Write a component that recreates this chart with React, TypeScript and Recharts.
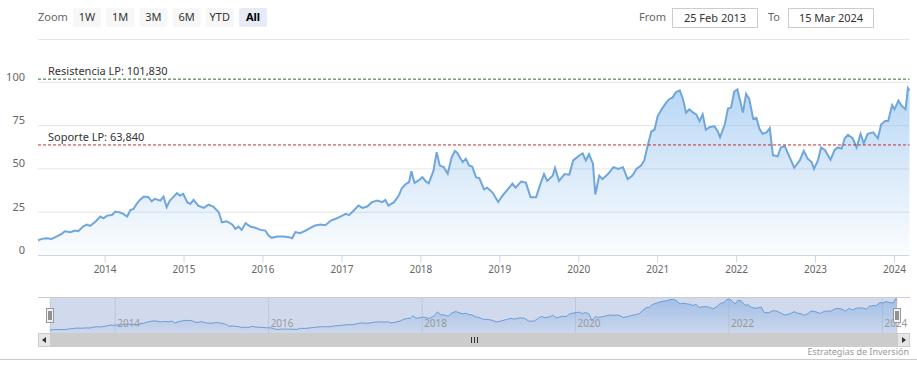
import React from "react";
import {
  AreaChart,
  Area,
  XAxis,
  YAxis,
  CartesianGrid,
  ReferenceLine,
  ReferenceArea,
} from "recharts";

// decimal years (25 Feb 2013 .. 15 Mar 2024)
const years = [
  2013.15, 2013.2, 2013.26, 2013.32, 2013.39, 2013.45, 2013.49, 2013.56, 2013.62, 2013.66,
  2013.72, 2013.77, 2013.81, 2013.87, 2013.94, 2013.98, 2014.02, 2014.09, 2014.13, 2014.19,
  2014.23, 2014.28, 2014.32, 2014.36, 2014.4, 2014.44, 2014.49, 2014.55, 2014.59, 2014.63,
  2014.7, 2014.74, 2014.78, 2014.82, 2014.87, 2014.91, 2014.95, 2014.99, 2015.04, 2015.08,
  2015.12, 2015.18, 2015.25, 2015.31, 2015.37, 2015.44, 2015.48, 2015.54, 2015.61, 2015.65,
  2015.69, 2015.73, 2015.78, 2015.84, 2015.9, 2015.97, 2016.03, 2016.07, 2016.11, 2016.18,
  2016.26, 2016.33, 2016.37, 2016.41, 2016.47, 2016.54, 2016.6, 2016.66, 2016.73, 2016.79,
  2016.86, 2016.92, 2016.98, 2017.05, 2017.09, 2017.15, 2017.21, 2017.26, 2017.32, 2017.38,
  2017.45, 2017.51, 2017.55, 2017.59, 2017.66, 2017.72, 2017.76, 2017.81, 2017.85, 2017.88,
  2017.92, 2017.98, 2018.02, 2018.06, 2018.1, 2018.16, 2018.2, 2018.24, 2018.29, 2018.34,
  2018.39, 2018.43, 2018.46, 2018.53, 2018.57, 2018.61, 2018.65, 2018.7, 2018.74, 2018.8,
  2018.84, 2018.91, 2018.98, 2019.03, 2019.1, 2019.16, 2019.2, 2019.27, 2019.33, 2019.39,
  2019.46, 2019.52, 2019.56, 2019.6, 2019.67, 2019.7, 2019.75, 2019.82, 2019.88, 2019.93,
  2020.01, 2020.05, 2020.09, 2020.13, 2020.18, 2020.21, 2020.26, 2020.3, 2020.37, 2020.44,
  2020.5, 2020.56, 2020.62, 2020.68, 2020.73, 2020.79, 2020.83, 2020.87, 2020.92, 2020.96,
  2021.0, 2021.05, 2021.11, 2021.15, 2021.19, 2021.23, 2021.28, 2021.32, 2021.36, 2021.4,
  2021.45, 2021.49, 2021.53, 2021.57, 2021.61, 2021.66, 2021.72, 2021.76, 2021.79, 2021.85,
  2021.89, 2021.93, 2021.97, 2022.01, 2022.05, 2022.08, 2022.12, 2022.16, 2022.21, 2022.25,
  2022.29, 2022.33, 2022.38, 2022.42, 2022.46, 2022.52, 2022.56, 2022.61, 2022.65, 2022.69,
  2022.73, 2022.8, 2022.85, 2022.9, 2022.95, 2022.98, 2023.03, 2023.07, 2023.12, 2023.19,
  2023.24, 2023.28, 2023.33, 2023.37, 2023.41, 2023.47, 2023.52, 2023.57, 2023.61, 2023.66,
  2023.73, 2023.79, 2023.83, 2023.88, 2023.92, 2023.97, 2024.0, 2024.05, 2024.09, 2024.14,
  2024.17, 2024.19,
];

const prices = [
  8.7, 9.6, 10.0, 9.6, 11.0, 12.5, 14.0, 13.5, 14.4, 14.0,
  16.7, 17.9, 17.1, 19.2, 22.5, 21.5, 22.9, 23.5, 25.4, 24.8,
  24.0, 22.5, 26.3, 26.9, 29.8, 32.1, 34.0, 33.7, 31.3, 32.7,
  31.7, 34.0, 27.9, 31.7, 34.0, 36.0, 34.6, 35.6, 30.8, 29.8,
  32.1, 28.8, 27.5, 29.4, 28.3, 25.0, 19.2, 19.8, 17.9, 15.4,
  16.7, 14.8, 18.7, 16.7, 16.0, 14.8, 14.4, 11.5, 10.2, 11.0,
  11.0, 10.6, 10.0, 13.5, 12.9, 14.4, 16.0, 17.3, 17.9, 17.5,
  20.2, 21.2, 22.5, 24.0, 23.3, 26.0, 28.8, 27.5, 28.3, 30.8,
  31.7, 30.8, 32.1, 28.8, 30.8, 34.6, 39.0, 41.3, 42.3, 48.7,
  41.9, 43.7, 45.2, 42.9, 41.7, 49.0, 59.7, 51.9, 51.0, 47.3,
  56.7, 60.3, 59.3, 53.9, 55.9, 52.0, 51.4, 45.1, 44.7, 38.2,
  39.2, 36.2, 30.9, 34.3, 38.2, 41.5, 39.2, 42.7, 42.1, 33.7,
  33.7, 42.1, 47.0, 43.1, 46.1, 50.6, 43.1, 47.0, 46.7, 54.9,
  57.9, 58.9, 54.9, 58.5, 53.0, 35.2, 46.1, 44.1, 47.0, 51.0,
  50.0, 51.0, 44.1, 46.1, 50.0, 52.0, 54.9, 62.8, 71.7, 72.6,
  80.5, 84.4, 88.4, 90.4, 91.3, 94.3, 95.3, 90.4, 82.5, 84.4,
  82.5, 81.5, 77.6, 81.5, 72.6, 74.2, 74.6, 71.7, 68.3, 75.6,
  84.8, 85.4, 94.7, 95.9, 88.4, 82.5, 93.3, 90.4, 78.9, 79.5,
  73.0, 70.3, 71.1, 73.6, 57.9, 57.3, 62.4, 63.2, 58.9, 54.9,
  50.6, 54.9, 60.4, 55.9, 53.9, 50.0, 54.9, 62.4, 60.8, 55.3,
  60.8, 62.4, 61.8, 67.7, 69.7, 67.7, 62.4, 70.3, 64.8, 70.3,
  71.1, 67.7, 75.6, 77.6, 77.6, 86.8, 84.4, 89.4, 86.4, 84.4,
  96.7, 95.3,
];

const yearTicks = [2014, 2015, 2016, 2017, 2018, 2019, 2020, 2021, 2022, 2023, 2024];
const navTicks = [2014, 2016, 2018, 2020, 2022, 2024];
const priceTicks = [0, 25, 50, 75, 100];
const zoomButtons = ["1W", "1M", "3M", "6M", "YTD", "All"];
const fromDate = "25 Feb 2013";
const toDate = "15 Mar 2024";
const resistance = 101.83;
const support = 63.84;
const resistanceLabel = "Resistencia LP: 101,830";
const supportLabel = "Soporte LP: 63,840";

const data = years.map((t, i) => ({ t, price: prices[i] }));

const FONT = '"Noto Sans", "DejaVu Sans", sans-serif';

const YTick = ({ y, payload }: any) => (
  <text x={25} y={y - 1.5} textAnchor="end" fill="#666" fontSize={11} fontFamily={FONT}>
    {payload.value}
  </text>
);

const XTick = ({ x, y, payload }: any) => (
  <text x={x} y={y + 10} textAnchor="middle" fill="#666" fontSize={10} fontFamily={FONT}>
    {payload.value}
  </text>
);

const NavTick = ({ x, y, payload }: any) => (
  <text x={x + 2} y={y - 6} textAnchor="start" fill="#999" fontSize={10} fontFamily={FONT}>
    {payload.value}
  </text>
);

const lineLabel = (text: string) => (props: any) => {
  const vb = props.viewBox || {};
  return (
    <text x={vb.x + 10} y={vb.y - 4} fill="#333" fontSize={11} fontFamily={FONT}>
      {text}
    </text>
  );
};

function Toolbar() {
  return (
    <g fontFamily={FONT}>
      <text x={38} y={21} fontSize={11} fill="#666">Zoom</text>
      {zoomButtons.map((b, i) => {
        const x = 73 + i * 33.2;
        const sel = b === "All";
        return (
          <g key={b}>
            <rect x={x} y={8} width={28} height={19} rx={2} fill={sel ? "#e6ebf5" : "#f7f7f7"} />
            <text
              x={x + 14}
              y={21}
              textAnchor="middle"
              fontSize={11}
              fill={sel ? "#000" : "#333"}
              fontWeight={sel ? "bold" : "normal"}
            >
              {b}
            </text>
          </g>
        );
      })}
      <text x={639} y={21} fontSize={11} fill="#666">From</text>
      <rect x={672.5} y={8.5} width={85} height={19} fill="#fff" stroke="#ccc" />
      <text x={715} y={21.5} textAnchor="middle" fontSize={11} fill="#333">{fromDate}</text>
      <text x={768} y={21} fontSize={11} fill="#666">To</text>
      <rect x={788.5} y={8.5} width={85} height={19} fill="#fff" stroke="#ccc" />
      <text x={831} y={21.5} textAnchor="middle" fontSize={11} fill="#333">{toDate}</text>
    </g>
  );
}

function Handle({ x }: { x: number }) {
  return (
    <g>
      <rect x={x - 3.5} y={308.5} width={7} height={14} fill="#f2f2f2" stroke="#999" />
      <line x1={x - 1} x2={x - 1} y1={311} y2={320} stroke="#333" />
      <line x1={x + 1} x2={x + 1} y1={311} y2={320} stroke="#333" />
    </g>
  );
}

function Decorations() {
  return (
    <svg width={917} height={371} style={{ position: "absolute", left: 0, top: 0, pointerEvents: "none" }}>
      <Toolbar />
      <line x1={38} x2={910} y1={39.5} y2={39.5} stroke="#e6e6e6" />
      <line x1={38} x2={910} y1={297.5} y2={297.5} stroke="#cccccc" />
      <Handle x={50} />
      <Handle x={897} />
      {/* scrollbar */}
      <rect x={38} y={333} width={872} height={14} fill="#f2f2f2" />
      <rect x={50} y={333} width={848} height={14} fill="#cccccc" />
      <rect x={38.5} y={333.5} width={12} height={13} fill="#e6e6e6" stroke="#cccccc" />
      <path d="M46 337 L42 340 L46 343 Z" fill="#333" />
      <rect x={897.5} y={333.5} width={12} height={13} fill="#e6e6e6" stroke="#cccccc" />
      <path d="M902 337 L906 340 L902 343 Z" fill="#333" />
      <line x1={471.5} x2={471.5} y1={337} y2={343} stroke="#333" />
      <line x1={474.5} x2={474.5} y1={337} y2={343} stroke="#333" />
      <line x1={477.5} x2={477.5} y1={337} y2={343} stroke="#333" />
      <line x1={0} x2={917} y1={359.5} y2={359.5} stroke="#cccccc" />
      <text x={909} y={355} textAnchor="end" fontSize={9} fill="#999" fontFamily={FONT}>
        Estrategias de Inversión
      </text>
    </svg>
  );
}

export default function App() {
  return (
    <div
      style={{
        position: "fixed",
        left: 0,
        top: 0,
        width: 917,
        height: 371,
        background: "#fff",
        overflow: "hidden",
        fontFamily: FONT,
      }}
    >
      <div style={{ position: "absolute", left: 0, top: 0 }}>
        <AreaChart width={917} height={290} data={data} margin={{ top: 65, right: 7.5, bottom: 4.5, left: 0 }}>
          <defs>
            <linearGradient id="mainFill" x1="0" y1="0" x2="0" y2="1">
              <stop offset="0%" stopColor="#7cb5ec" stopOpacity={0.9} />
              <stop offset="100%" stopColor="#7cb5ec" stopOpacity={0.04} />
            </linearGradient>
          </defs>
          <CartesianGrid vertical={false} stroke="#e6e6e6" horizontalValues={priceTicks} />
          <XAxis
            dataKey="t"
            type="number"
            domain={["dataMin", "dataMax"]}
            ticks={yearTicks}
            height={30}
            tickSize={7}
            tickMargin={0}
            axisLine={{ stroke: "#ccd6eb" }}
            tickLine={{ stroke: "#ccd6eb" }}
            tick={<XTick />}
          />
          <YAxis
            width={38}
            domain={[0, 110]}
            ticks={priceTicks}
            axisLine={false}
            tickLine={false}
            tick={<YTick />}
          />
          <Area
            type="linear"
            dataKey="price"
            stroke="#6fa6dc"
            strokeWidth={2}
            fill="url(#mainFill)"
            dot={false}
            activeDot={false}
            isAnimationActive={false}
          />
          <ReferenceLine
            y={resistance}
            stroke="#2f6b2f"
            strokeDasharray="3 2"
            label={{ content: lineLabel(resistanceLabel) }}
          />
          <ReferenceLine
            y={support}
            stroke="#c0302b"
            strokeDasharray="3 2"
            label={{ content: lineLabel(supportLabel) }}
          />
        </AreaChart>
      </div>

      <div style={{ position: "absolute", left: 0, top: 297 }}>
        <AreaChart width={917} height={37} data={data} margin={{ top: 0, right: 20, bottom: 0, left: 50 }}>
          <defs>
            <linearGradient id="navFill" x1="0" y1="0" x2="0" y2="1">
              <stop offset="0%" stopColor="#7cb5ec" stopOpacity={0.85} />
              <stop offset="100%" stopColor="#7cb5ec" stopOpacity={0.1} />
            </linearGradient>
          </defs>
          <CartesianGrid horizontal={false} stroke="#e6e6e6" />
          <XAxis
            dataKey="t"
            type="number"
            domain={["dataMin", "dataMax"]}
            ticks={navTicks}
            height={1}
            tickSize={0}
            tickMargin={0}
            axisLine={false}
            tickLine={false}
            tick={<NavTick />}
          />
          <YAxis hide domain={[0, 102]} />
          <Area
            type="linear"
            dataKey="price"
            stroke="#6fa6dc"
            strokeWidth={1}
            fill="url(#navFill)"
            dot={false}
            activeDot={false}
            isAnimationActive={false}
          />
          <ReferenceArea
            x1={years[0]}
            x2={years[years.length - 1]}
            fill="rgb(102,133,194)"
            fillOpacity={0.3}
            stroke="none"
          />
        </AreaChart>
      </div>

      <Decorations />
    </div>
  );
}
